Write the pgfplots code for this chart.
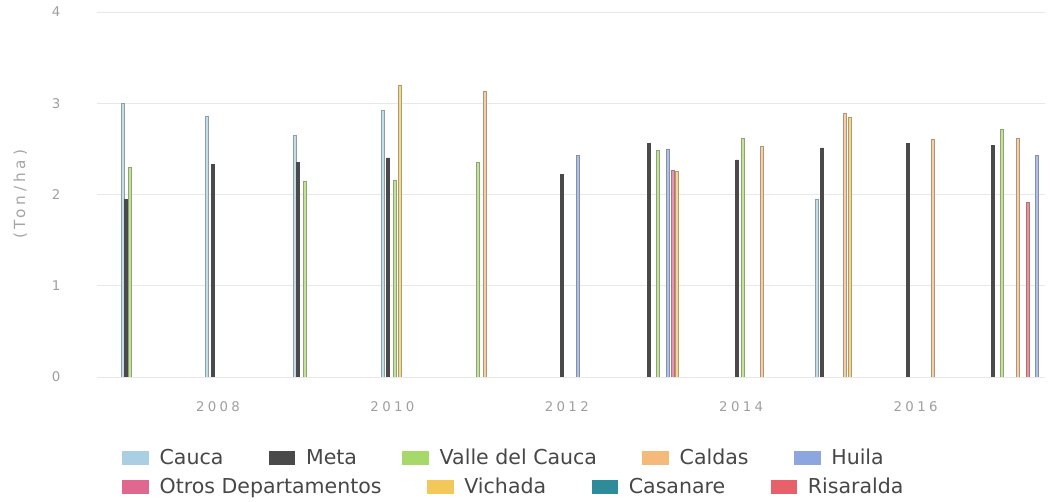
\documentclass[border=0pt]{standalone}
\usepackage{fontspec}
\setmainfont{DejaVu Sans}
\newfontfamily\tickfont[LetterSpace=25]{DejaVu Sans}
\usepackage{pgfplots}
\pgfplotsset{compat=1.18}

\definecolor{cauca}{HTML}{A9CFE3}
\definecolor{meta}{HTML}{4A4A4A}
\definecolor{valle}{HTML}{A6D96A}
\definecolor{caldas}{HTML}{F5B97A}
\definecolor{huila}{HTML}{8DA6E0}
\definecolor{otros}{HTML}{E06890}
\definecolor{vichada}{HTML}{F2C85B}
\definecolor{casanare}{HTML}{2E8B9A}
\definecolor{risaralda}{HTML}{E8616A}

\pgfplotsset{
  base/.style={
    at={(0pt,0pt)}, anchor=south west,
    scale only axis, width=711pt, height=273.75pt,
    xmin=2006.612, xmax=2017.484, ymin=0, ymax=4,
    legend image code/.code={\fill[##1, draw=none] (0pt,-5.5pt) rectangle (20pt,5.5pt);},
    legend columns=-1,
    legend style={draw=none, fill=none, inner sep=0pt, text=black!72,
      font=\fontsize{15.4}{17}\selectfont, nodes={inner sep=0pt},
      /tikz/every odd column/.append style={column sep=8pt},
      /tikz/every even column/.append style={column sep=34pt}},
  },
  bars/.style={ybar, bar width=2pt, bar shift=0pt, line width=0.4pt,
    fill=#1!70, draw=#1!40!gray, forget plot},
}

\begin{document}
\begin{tikzpicture}
\useasboundingbox (-72.75pt,-93.75pt) rectangle (720pt,282.75pt);
\begin{axis}[
  base,
  axis line style={draw=none},
  major tick length=0pt,
  xtick={2008,2010,2012,2014,2016},
  ytick={0,1,2,3,4},
  ymajorgrids,
  major grid style={gray!18, line width=0.6pt},
  /pgf/number format/1000 sep={},
  /pgf/number format/assume math mode=true,
  xticklabel style={font=\tickfont\fontsize{10}{12}\selectfont, text=gray!75, yshift=-15pt},
  yticklabel style={font=\tickfont\fontsize{10}{12}\selectfont, text=gray!75, xshift=-24pt},
  ylabel={(Ton/ha)},
  ylabel style={at={(axis description cs:-0.081,0.5)}, anchor=center,
    font=\tickfont\fontsize{11.5}{13}\selectfont, text=gray!70},
  legend style={at={(axis description cs:0.0264,-0.2219)}, anchor=west},
]
\addlegendimage{fill=cauca}
\addlegendentry{Cauca}
\addlegendimage{fill=meta}
\addlegendentry{Meta}
\addlegendimage{fill=valle}
\addlegendentry{Valle del Cauca}
\addlegendimage{fill=caldas}
\addlegendentry{Caldas}
\addlegendimage{fill=huila}
\addlegendentry{Huila}

% Cauca
\addplot[bars=cauca] coordinates {
  (2006.911,3.00) (2007.874,2.86) (2008.883,2.65) (2009.892,2.92) (2014.869,1.95)
};
% Valle del Cauca
\addplot[bars=valle] coordinates {
  (2006.991,2.30) (2008.998,2.15) (2010.030,2.16) (2010.982,2.35)
  (2013.046,2.48) (2014.021,2.62) (2016.991,2.72)
};
% Caldas
\addplot[bars=caldas] coordinates {
  (2011.062,3.13) (2014.239,2.53) (2015.190,2.89) (2016.200,2.60) (2017.174,2.62)
};
% Huila
\addplot[bars=huila] coordinates {
  (2012.128,2.43) (2013.161,2.50) (2017.392,2.43)
};
% Otros Departamentos
\addplot[bars=otros] coordinates {
  (2013.218,2.27)
};
% Vichada
\addplot[bars=vichada] coordinates {
  (2010.087,3.20) (2013.264,2.25) (2015.248,2.85)
};
% Risaralda
\addplot[bars=risaralda] coordinates {
  (2017.289,1.92)
};
% Meta
\addplot[ybar, bar width=2.2pt, bar shift=0pt, fill=meta, draw=meta, forget plot] coordinates {
  (2006.945,1.95) (2007.943,2.33) (2008.917,2.35) (2009.950,2.40) (2011.945,2.22)
  (2012.943,2.56) (2013.952,2.38) (2014.927,2.51) (2015.913,2.56) (2016.888,2.54)
};
\end{axis}

% second legend row
\begin{axis}[
  base, hide axis,
  legend style={at={(axis description cs:0.0264,-0.3014)}, anchor=west},
]
\addlegendimage{fill=otros}
\addlegendentry{Otros Departamentos}
\addlegendimage{fill=vichada}
\addlegendentry{Vichada}
\addlegendimage{fill=casanare}
\addlegendentry{Casanare}
\addlegendimage{fill=risaralda}
\addlegendentry{Risaralda}
\end{axis}
\end{tikzpicture}
\end{document}
